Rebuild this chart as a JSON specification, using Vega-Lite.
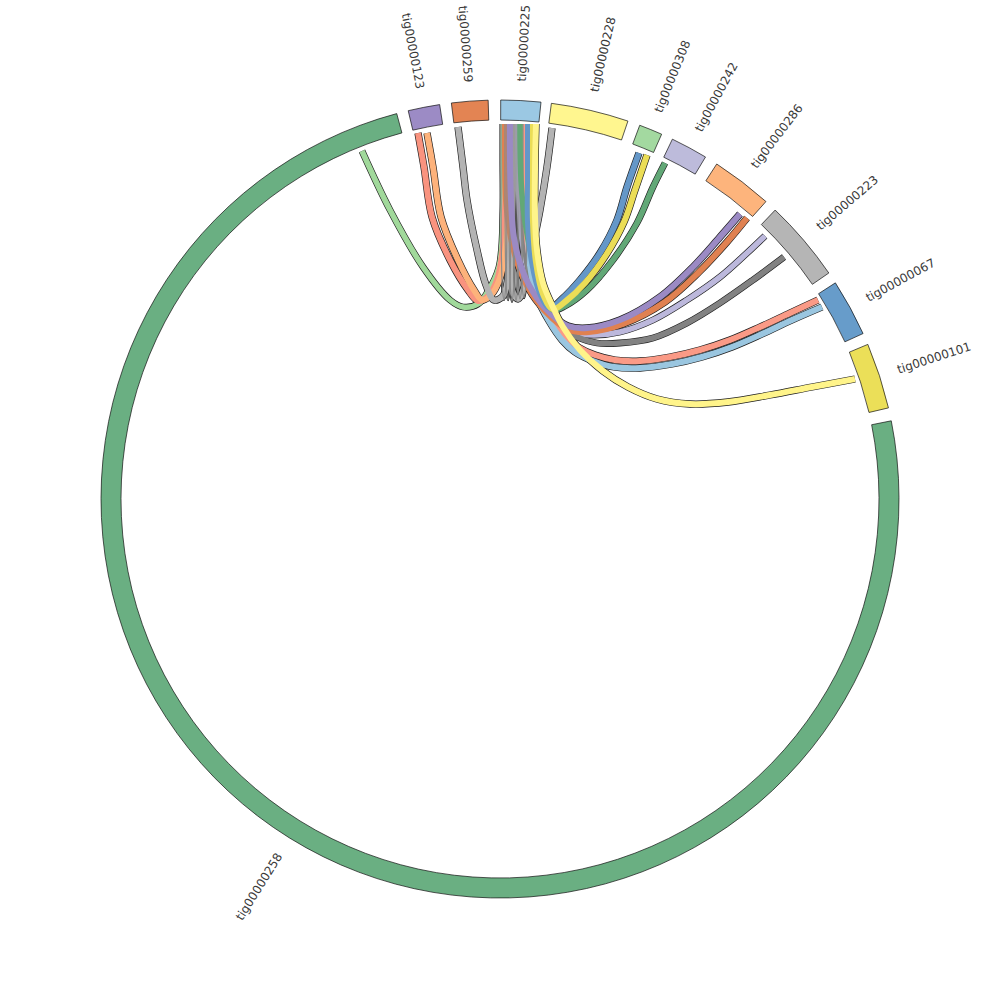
{
  "$schema": "https://vega.github.io/schema/vega-lite/v6.json",
  "width": 1000,
  "height": 1000,
  "autosize": {"type": "fit", "contains": "padding"},
  "padding": 0,
  "background": "white",
  "config": {"view": {"stroke": null}},
  "datasets": {
    "segments": [
      {"tig": "tig00000225", "start": 0.1, "end": 5.9, "mid": 3.0, "side": "R"},
      {"tig": "tig00000228", "start": 7.4, "end": 18.7, "mid": 13.05, "side": "R"},
      {"tig": "tig00000308", "start": 20.5, "end": 23.9, "mid": 22.2, "side": "R"},
      {"tig": "tig00000242", "start": 25.6, "end": 31.0, "mid": 28.3, "side": "R"},
      {"tig": "tig00000286", "start": 32.9, "end": 41.8, "mid": 37.35, "side": "R"},
      {"tig": "tig00000223", "start": 43.6, "end": 55.5, "mid": 49.55, "side": "R"},
      {"tig": "tig00000067", "start": 57.2, "end": 65.5, "mid": 61.35, "side": "R"},
      {"tig": "tig00000101", "start": 67.2, "end": 76.8, "mid": 72.0, "side": "R"},
      {"tig": "tig00000258", "start": 78.7, "end": 345.0, "mid": 211.85, "side": "L"},
      {"tig": "tig00000123", "start": 346.7, "end": 351.3, "mid": 349.0, "side": "L"},
      {"tig": "tig00000259", "start": 353.0, "end": 358.3, "mid": 355.65, "side": "L"}
    ],
    "links": [
      {"id": "258-225", "i": 1, "x": -138, "y": 348, "w": 5.5},
      {"id": "258-225", "i": 2, "x": -110, "y": 289, "w": 5.5},
      {"id": "258-225", "i": 3, "x": -77, "y": 232, "w": 5.5},
      {"id": "258-225", "i": 4, "x": -50, "y": 199, "w": 5.5},
      {"id": "258-225", "i": 5, "x": -37, "y": 192, "w": 5.5},
      {"id": "258-225", "i": 6, "x": -22, "y": 195, "w": 5.5},
      {"id": "258-225", "i": 7, "x": -13, "y": 206, "w": 5.5},
      {"id": "258-225", "i": 8, "x": -1, "y": 232, "w": 5.5},
      {"id": "258-225", "i": 9, "x": 3, "y": 289, "w": 5.5},
      {"id": "258-225", "i": 10, "x": 3, "y": 339, "w": 5.5},
      {"id": "258-225", "i": 11, "x": 3, "y": 375, "w": 5.5},

      {"id": "123-225a", "i": 1, "x": -82, "y": 366, "w": 6},
      {"id": "123-225a", "i": 2, "x": -76, "y": 332, "w": 6},
      {"id": "123-225a", "i": 3, "x": -68, "y": 282, "w": 6},
      {"id": "123-225a", "i": 4, "x": -50, "y": 239, "w": 6},
      {"id": "123-225a", "i": 5, "x": -32, "y": 209, "w": 6},
      {"id": "123-225a", "i": 6, "x": -22, "y": 198, "w": 6},
      {"id": "123-225a", "i": 7, "x": -13, "y": 202, "w": 6},
      {"id": "123-225a", "i": 8, "x": -3, "y": 219, "w": 6},
      {"id": "123-225a", "i": 9, "x": 3, "y": 252, "w": 6},
      {"id": "123-225a", "i": 10, "x": 5, "y": 289, "w": 6},
      {"id": "123-225a", "i": 11, "x": 6, "y": 329, "w": 6},
      {"id": "123-225a", "i": 12, "x": 6, "y": 375, "w": 6},

      {"id": "123-225b", "i": 1, "x": -73, "y": 366, "w": 6},
      {"id": "123-225b", "i": 2, "x": -67, "y": 332, "w": 6},
      {"id": "123-225b", "i": 3, "x": -59, "y": 282, "w": 6},
      {"id": "123-225b", "i": 4, "x": -42, "y": 239, "w": 6},
      {"id": "123-225b", "i": 5, "x": -26, "y": 209, "w": 6},
      {"id": "123-225b", "i": 6, "x": -18, "y": 199, "w": 6},
      {"id": "123-225b", "i": 7, "x": -9, "y": 204, "w": 6},
      {"id": "123-225b", "i": 8, "x": 0, "y": 221, "w": 6},
      {"id": "123-225b", "i": 9, "x": 6, "y": 254, "w": 6},
      {"id": "123-225b", "i": 10, "x": 8, "y": 291, "w": 6},
      {"id": "123-225b", "i": 11, "x": 8, "y": 329, "w": 6},
      {"id": "123-225b", "i": 12, "x": 8, "y": 375, "w": 6},

      {"id": "259-225", "i": 1, "x": -42, "y": 372, "w": 6},
      {"id": "259-225", "i": 2, "x": -37, "y": 332, "w": 6},
      {"id": "259-225", "i": 3, "x": -33, "y": 299, "w": 6},
      {"id": "259-225", "i": 4, "x": -23, "y": 249, "w": 6},
      {"id": "259-225", "i": 5, "x": -14, "y": 214, "w": 6},
      {"id": "259-225", "i": 6, "x": -6, "y": 199, "w": 6},
      {"id": "259-225", "i": 7, "x": 3, "y": 203, "w": 6},
      {"id": "259-225", "i": 8, "x": 9, "y": 229, "w": 6},
      {"id": "259-225", "i": 9, "x": 11, "y": 279, "w": 6},
      {"id": "259-225", "i": 10, "x": 11, "y": 329, "w": 6},
      {"id": "259-225", "i": 11, "x": 11, "y": 375, "w": 6},

      {"id": "228-225", "i": 1, "x": 52, "y": 371, "w": 6},
      {"id": "228-225", "i": 2, "x": 47, "y": 332, "w": 6},
      {"id": "228-225", "i": 3, "x": 40, "y": 289, "w": 6},
      {"id": "228-225", "i": 4, "x": 32, "y": 249, "w": 6},
      {"id": "228-225", "i": 5, "x": 25, "y": 214, "w": 6},
      {"id": "228-225", "i": 6, "x": 18, "y": 200, "w": 6},
      {"id": "228-225", "i": 7, "x": 12, "y": 209, "w": 6},
      {"id": "228-225", "i": 8, "x": 10, "y": 239, "w": 6},
      {"id": "228-225", "i": 9, "x": 12, "y": 289, "w": 6},
      {"id": "228-225", "i": 10, "x": 14, "y": 329, "w": 6},
      {"id": "228-225", "i": 11, "x": 15, "y": 375, "w": 6},

      {"id": "223-225a", "i": 1, "x": 265, "y": 263, "w": 5.5},
      {"id": "223-225a", "i": 2, "x": 247, "y": 246, "w": 5.5},
      {"id": "223-225a", "i": 3, "x": 220, "y": 222, "w": 5.5},
      {"id": "223-225a", "i": 4, "x": 187, "y": 199, "w": 5.5},
      {"id": "223-225a", "i": 5, "x": 153, "y": 179, "w": 5.5},
      {"id": "223-225a", "i": 6, "x": 120, "y": 167, "w": 5.5},
      {"id": "223-225a", "i": 7, "x": 93, "y": 164, "w": 5.5},
      {"id": "223-225a", "i": 8, "x": 73, "y": 167, "w": 5.5},
      {"id": "223-225a", "i": 9, "x": 57, "y": 179, "w": 5.5},
      {"id": "223-225a", "i": 10, "x": 42, "y": 196, "w": 5.5},
      {"id": "223-225a", "i": 11, "x": 30, "y": 221, "w": 5.5},
      {"id": "223-225a", "i": 12, "x": 22, "y": 259, "w": 5.5},
      {"id": "223-225a", "i": 13, "x": 19, "y": 299, "w": 5.5},
      {"id": "223-225a", "i": 14, "x": 18, "y": 339, "w": 5.5},
      {"id": "223-225a", "i": 15, "x": 18, "y": 375, "w": 5.5},

      {"id": "223-225b", "i": 1, "x": 284, "y": 242, "w": 5.5},
      {"id": "223-225b", "i": 2, "x": 253, "y": 219, "w": 5.5},
      {"id": "223-225b", "i": 3, "x": 220, "y": 196, "w": 5.5},
      {"id": "223-225b", "i": 4, "x": 187, "y": 176, "w": 5.5},
      {"id": "223-225b", "i": 5, "x": 153, "y": 161, "w": 5.5},
      {"id": "223-225b", "i": 6, "x": 120, "y": 156, "w": 5.5},
      {"id": "223-225b", "i": 7, "x": 97, "y": 156, "w": 5.5},
      {"id": "223-225b", "i": 8, "x": 77, "y": 162, "w": 5.5},
      {"id": "223-225b", "i": 9, "x": 60, "y": 172, "w": 5.5},
      {"id": "223-225b", "i": 10, "x": 45, "y": 189, "w": 5.5},
      {"id": "223-225b", "i": 11, "x": 32, "y": 214, "w": 5.5},
      {"id": "223-225b", "i": 12, "x": 25, "y": 249, "w": 5.5},
      {"id": "223-225b", "i": 13, "x": 23, "y": 299, "w": 5.5},
      {"id": "223-225b", "i": 14, "x": 23, "y": 339, "w": 5.5},
      {"id": "223-225b", "i": 15, "x": 23, "y": 375, "w": 5.5},

      {"id": "067-225a", "i": 1, "x": 318, "y": 199, "w": 6},
      {"id": "067-225a", "i": 2, "x": 290, "y": 186, "w": 6},
      {"id": "067-225a", "i": 3, "x": 260, "y": 172, "w": 6},
      {"id": "067-225a", "i": 4, "x": 230, "y": 159, "w": 6},
      {"id": "067-225a", "i": 5, "x": 200, "y": 149, "w": 6},
      {"id": "067-225a", "i": 6, "x": 170, "y": 142, "w": 6},
      {"id": "067-225a", "i": 7, "x": 140, "y": 138, "w": 6},
      {"id": "067-225a", "i": 8, "x": 115, "y": 139, "w": 6},
      {"id": "067-225a", "i": 9, "x": 95, "y": 144, "w": 6},
      {"id": "067-225a", "i": 10, "x": 78, "y": 152, "w": 6},
      {"id": "067-225a", "i": 11, "x": 65, "y": 163, "w": 6},
      {"id": "067-225a", "i": 12, "x": 52, "y": 181, "w": 6},
      {"id": "067-225a", "i": 13, "x": 40, "y": 204, "w": 6},
      {"id": "067-225a", "i": 14, "x": 31, "y": 234, "w": 6},
      {"id": "067-225a", "i": 15, "x": 26, "y": 274, "w": 6},
      {"id": "067-225a", "i": 16, "x": 25, "y": 319, "w": 6},
      {"id": "067-225a", "i": 17, "x": 25, "y": 375, "w": 6},

      {"id": "067-225b", "i": 1, "x": 322, "y": 192, "w": 6},
      {"id": "067-225b", "i": 2, "x": 292, "y": 179, "w": 6},
      {"id": "067-225b", "i": 3, "x": 262, "y": 165, "w": 6},
      {"id": "067-225b", "i": 4, "x": 232, "y": 152, "w": 6},
      {"id": "067-225b", "i": 5, "x": 202, "y": 142, "w": 6},
      {"id": "067-225b", "i": 6, "x": 172, "y": 135, "w": 6},
      {"id": "067-225b", "i": 7, "x": 140, "y": 131, "w": 6},
      {"id": "067-225b", "i": 8, "x": 114, "y": 132, "w": 6},
      {"id": "067-225b", "i": 9, "x": 93, "y": 138, "w": 6},
      {"id": "067-225b", "i": 10, "x": 75, "y": 147, "w": 6},
      {"id": "067-225b", "i": 11, "x": 62, "y": 159, "w": 6},
      {"id": "067-225b", "i": 12, "x": 49, "y": 178, "w": 6},
      {"id": "067-225b", "i": 13, "x": 37, "y": 202, "w": 6},
      {"id": "067-225b", "i": 14, "x": 30, "y": 234, "w": 6},
      {"id": "067-225b", "i": 15, "x": 28, "y": 274, "w": 6},
      {"id": "067-225b", "i": 16, "x": 29, "y": 319, "w": 6},
      {"id": "067-225b", "i": 17, "x": 29, "y": 375, "w": 6},

      {"id": "286-225b", "i": 1, "x": 247, "y": 281, "w": 6},
      {"id": "286-225b", "i": 2, "x": 227, "y": 257, "w": 6},
      {"id": "286-225b", "i": 3, "x": 199, "y": 227, "w": 6},
      {"id": "286-225b", "i": 4, "x": 165, "y": 197, "w": 6},
      {"id": "286-225b", "i": 5, "x": 123, "y": 175, "w": 6},
      {"id": "286-225b", "i": 6, "x": 89, "y": 167, "w": 6},
      {"id": "286-225b", "i": 7, "x": 69, "y": 169, "w": 6},
      {"id": "286-225b", "i": 8, "x": 52, "y": 181, "w": 6},
      {"id": "286-225b", "i": 9, "x": 36, "y": 199, "w": 6},
      {"id": "286-225b", "i": 10, "x": 21, "y": 226, "w": 6},
      {"id": "286-225b", "i": 11, "x": 11, "y": 261, "w": 6},
      {"id": "286-225b", "i": 12, "x": 6, "y": 299, "w": 6},
      {"id": "286-225b", "i": 13, "x": 5, "y": 339, "w": 6},
      {"id": "286-225b", "i": 14, "x": 5, "y": 375, "w": 6},

      {"id": "s1", "i": 1, "x": 1, "y": 375, "w": 1.2},
      {"id": "s1", "i": 2, "x": 1, "y": 299, "w": 1.2},
      {"id": "s1", "i": 3, "x": 1.5, "y": 239, "w": 1.2},
      {"id": "s1", "i": 4, "x": 2.5, "y": 209, "w": 1.2},
      {"id": "s1", "i": 5, "x": 4, "y": 199, "w": 1.2},
      {"id": "s1", "i": 6, "x": 5.5, "y": 209, "w": 1.2},
      {"id": "s1", "i": 7, "x": 6.5, "y": 239, "w": 1.2},
      {"id": "s1", "i": 8, "x": 7, "y": 299, "w": 1.2},
      {"id": "s1", "i": 9, "x": 7, "y": 375, "w": 1.2},

      {"id": "s2", "i": 1, "x": 5, "y": 375, "w": 1.2},
      {"id": "s2", "i": 2, "x": 5, "y": 299, "w": 1.2},
      {"id": "s2", "i": 3, "x": 5.5, "y": 239, "w": 1.2},
      {"id": "s2", "i": 4, "x": 6.5, "y": 209, "w": 1.2},
      {"id": "s2", "i": 5, "x": 8, "y": 199, "w": 1.2},
      {"id": "s2", "i": 6, "x": 9.5, "y": 209, "w": 1.2},
      {"id": "s2", "i": 7, "x": 10.5, "y": 239, "w": 1.2},
      {"id": "s2", "i": 8, "x": 11, "y": 299, "w": 1.2},
      {"id": "s2", "i": 9, "x": 11, "y": 375, "w": 1.2},

      {"id": "s3", "i": 1, "x": 9, "y": 375, "w": 1.2},
      {"id": "s3", "i": 2, "x": 9, "y": 299, "w": 1.2},
      {"id": "s3", "i": 3, "x": 9.5, "y": 239, "w": 1.2},
      {"id": "s3", "i": 4, "x": 10.5, "y": 209, "w": 1.2},
      {"id": "s3", "i": 5, "x": 12, "y": 197, "w": 1.2},
      {"id": "s3", "i": 6, "x": 13.5, "y": 209, "w": 1.2},
      {"id": "s3", "i": 7, "x": 14.5, "y": 239, "w": 1.2},
      {"id": "s3", "i": 8, "x": 15, "y": 299, "w": 1.2},
      {"id": "s3", "i": 9, "x": 15, "y": 375, "w": 1.2},

      {"id": "s4", "i": 1, "x": 13, "y": 375, "w": 1.2},
      {"id": "s4", "i": 2, "x": 13, "y": 299, "w": 1.2},
      {"id": "s4", "i": 3, "x": 13.5, "y": 239, "w": 1.2},
      {"id": "s4", "i": 4, "x": 14.5, "y": 209, "w": 1.2},
      {"id": "s4", "i": 5, "x": 16, "y": 198, "w": 1.2},
      {"id": "s4", "i": 6, "x": 17.5, "y": 209, "w": 1.2},
      {"id": "s4", "i": 7, "x": 18.5, "y": 239, "w": 1.2},
      {"id": "s4", "i": 8, "x": 19, "y": 299, "w": 1.2},
      {"id": "s4", "i": 9, "x": 19, "y": 375, "w": 1.2},

      {"id": "s5", "i": 1, "x": 17, "y": 375, "w": 1.2},
      {"id": "s5", "i": 2, "x": 17, "y": 299, "w": 1.2},
      {"id": "s5", "i": 3, "x": 17.5, "y": 239, "w": 1.2},
      {"id": "s5", "i": 4, "x": 18.5, "y": 209, "w": 1.2},
      {"id": "s5", "i": 5, "x": 20, "y": 200, "w": 1.2},
      {"id": "s5", "i": 6, "x": 21.5, "y": 209, "w": 1.2},
      {"id": "s5", "i": 7, "x": 22.5, "y": 239, "w": 1.2},
      {"id": "s5", "i": 8, "x": 23, "y": 299, "w": 1.2},
      {"id": "s5", "i": 9, "x": 23, "y": 375, "w": 1.2},

      {"id": "s6", "i": 1, "x": 21, "y": 375, "w": 1.2},
      {"id": "s6", "i": 2, "x": 21, "y": 299, "w": 1.2},
      {"id": "s6", "i": 3, "x": 21.5, "y": 239, "w": 1.2},
      {"id": "s6", "i": 4, "x": 22.5, "y": 209, "w": 1.2},
      {"id": "s6", "i": 5, "x": 24, "y": 201, "w": 1.2},
      {"id": "s6", "i": 6, "x": 25.5, "y": 209, "w": 1.2},
      {"id": "s6", "i": 7, "x": 26.5, "y": 239, "w": 1.2},
      {"id": "s6", "i": 8, "x": 27, "y": 299, "w": 1.2},
      {"id": "s6", "i": 9, "x": 27, "y": 375, "w": 1.2},

      {"id": "286-225a", "i": 1, "x": 240, "y": 285, "w": 6},
      {"id": "286-225a", "i": 2, "x": 220, "y": 262, "w": 6},
      {"id": "286-225a", "i": 3, "x": 193, "y": 232, "w": 6},
      {"id": "286-225a", "i": 4, "x": 160, "y": 202, "w": 6},
      {"id": "286-225a", "i": 5, "x": 120, "y": 179, "w": 6},
      {"id": "286-225a", "i": 6, "x": 87, "y": 171, "w": 6},
      {"id": "286-225a", "i": 7, "x": 68, "y": 173, "w": 6},
      {"id": "286-225a", "i": 8, "x": 52, "y": 184, "w": 6},
      {"id": "286-225a", "i": 9, "x": 37, "y": 201, "w": 6},
      {"id": "286-225a", "i": 10, "x": 23, "y": 227, "w": 6},
      {"id": "286-225a", "i": 11, "x": 14, "y": 261, "w": 6},
      {"id": "286-225a", "i": 12, "x": 11, "y": 299, "w": 6},
      {"id": "286-225a", "i": 13, "x": 10, "y": 339, "w": 6},
      {"id": "286-225a", "i": 14, "x": 10, "y": 375, "w": 6},

      {"id": "242-225", "i": 1, "x": 165, "y": 336, "w": 5.5},
      {"id": "242-225", "i": 2, "x": 153, "y": 312, "w": 5.5},
      {"id": "242-225", "i": 3, "x": 137, "y": 276, "w": 5.5},
      {"id": "242-225", "i": 4, "x": 113, "y": 239, "w": 5.5},
      {"id": "242-225", "i": 5, "x": 87, "y": 209, "w": 5.5},
      {"id": "242-225", "i": 6, "x": 65, "y": 193, "w": 5.5},
      {"id": "242-225", "i": 7, "x": 53, "y": 189, "w": 5.5},
      {"id": "242-225", "i": 8, "x": 43, "y": 203, "w": 5.5},
      {"id": "242-225", "i": 9, "x": 33, "y": 237, "w": 5.5},
      {"id": "242-225", "i": 10, "x": 25, "y": 277, "w": 5.5},
      {"id": "242-225", "i": 11, "x": 21, "y": 319, "w": 5.5},
      {"id": "242-225", "i": 12, "x": 20, "y": 375, "w": 5.5},

      {"id": "308-225a", "i": 1, "x": 139, "y": 346, "w": 6},
      {"id": "308-225a", "i": 2, "x": 127, "y": 312, "w": 6},
      {"id": "308-225a", "i": 3, "x": 117, "y": 279, "w": 6},
      {"id": "308-225a", "i": 4, "x": 100, "y": 246, "w": 6},
      {"id": "308-225a", "i": 5, "x": 80, "y": 219, "w": 6},
      {"id": "308-225a", "i": 6, "x": 62, "y": 200, "w": 6},
      {"id": "308-225a", "i": 7, "x": 50, "y": 191, "w": 6},
      {"id": "308-225a", "i": 8, "x": 40, "y": 206, "w": 6},
      {"id": "308-225a", "i": 9, "x": 32, "y": 237, "w": 6},
      {"id": "308-225a", "i": 10, "x": 28, "y": 277, "w": 6},
      {"id": "308-225a", "i": 11, "x": 28, "y": 319, "w": 6},
      {"id": "308-225a", "i": 12, "x": 28, "y": 375, "w": 6},

      {"id": "308-225b", "i": 1, "x": 147, "y": 344, "w": 6},
      {"id": "308-225b", "i": 2, "x": 135, "y": 309, "w": 6},
      {"id": "308-225b", "i": 3, "x": 124, "y": 277, "w": 6},
      {"id": "308-225b", "i": 4, "x": 106, "y": 244, "w": 6},
      {"id": "308-225b", "i": 5, "x": 85, "y": 216, "w": 6},
      {"id": "308-225b", "i": 6, "x": 66, "y": 198, "w": 6},
      {"id": "308-225b", "i": 7, "x": 53, "y": 190, "w": 6},
      {"id": "308-225b", "i": 8, "x": 43, "y": 205, "w": 6},
      {"id": "308-225b", "i": 9, "x": 36, "y": 237, "w": 6},
      {"id": "308-225b", "i": 10, "x": 33, "y": 277, "w": 6},
      {"id": "308-225b", "i": 11, "x": 33, "y": 319, "w": 6},
      {"id": "308-225b", "i": 12, "x": 33, "y": 375, "w": 6},

      {"id": "101-225", "i": 1, "x": 355, "y": 120, "w": 6},
      {"id": "101-225", "i": 2, "x": 312, "y": 112, "w": 6},
      {"id": "101-225", "i": 3, "x": 270, "y": 104, "w": 6},
      {"id": "101-225", "i": 4, "x": 228, "y": 97, "w": 6},
      {"id": "101-225", "i": 5, "x": 190, "y": 95, "w": 6},
      {"id": "101-225", "i": 6, "x": 157, "y": 100, "w": 6},
      {"id": "101-225", "i": 7, "x": 128, "y": 112, "w": 6},
      {"id": "101-225", "i": 8, "x": 103, "y": 128, "w": 6},
      {"id": "101-225", "i": 9, "x": 80, "y": 149, "w": 6},
      {"id": "101-225", "i": 10, "x": 63, "y": 172, "w": 6},
      {"id": "101-225", "i": 11, "x": 52, "y": 194, "w": 6},
      {"id": "101-225", "i": 12, "x": 43, "y": 216, "w": 6},
      {"id": "101-225", "i": 13, "x": 37, "y": 249, "w": 6},
      {"id": "101-225", "i": 14, "x": 35, "y": 282, "w": 6},
      {"id": "101-225", "i": 15, "x": 35, "y": 329, "w": 6},
      {"id": "101-225", "i": 16, "x": 36, "y": 375, "w": 6}
    ]
  },
  "layer": [
    {
      "data": {"name": "links"},
      "mark": {"type": "line", "interpolate": "catmull-rom", "color": "#1e1e1e", "strokeCap": "butt"},
      "encoding": {
        "x": {"field": "x", "type": "quantitative", "scale": {"domain": [-500, 500], "nice": false, "zero": false}, "axis": null},
        "y": {"field": "y", "type": "quantitative", "scale": {"domain": [-501, 499], "nice": false, "zero": false}, "axis": null},
        "detail": {"field": "id", "type": "nominal"},
        "order": {"field": "i", "type": "quantitative"},
        "size": {"field": "w", "type": "quantitative", "scale": {"domain": [0, 10], "range": [1.3, 11.3], "zero": false}, "legend": null}
      }
    },
    {
      "data": {"name": "links"},
      "mark": {"type": "line", "interpolate": "catmull-rom", "strokeCap": "butt"},
      "encoding": {
        "x": {"field": "x", "type": "quantitative"},
        "y": {"field": "y", "type": "quantitative"},
        "order": {"field": "i", "type": "quantitative"},
        "color": {
          "field": "id", "type": "nominal", "legend": null,
          "scale": {
            "domain": ["258-225", "123-225a", "123-225b", "259-225", "228-225", "308-225a", "308-225b", "242-225", "286-225a", "286-225b", "223-225a", "223-225b", "067-225a", "067-225b", "101-225", "s1", "s2", "s3", "s4", "s5", "s6"],
            "range": ["#a1d99b", "#f9937f", "#fdb27b", "#b3b3b3", "#b3b3b3", "#6497c8", "#ebdd56", "#62a877", "#9b8ac4", "#e08151", "#bcb8dc", "#828282", "#fa9a86", "#9ac6e0", "#fff48a", "#8a8a8a", "#8a8a8a", "#8a8a8a", "#8a8a8a", "#8a8a8a", "#8a8a8a"]
          }
        },
        "size": {"field": "w", "type": "quantitative", "scale": {"domain": [0, 10], "range": [0, 10], "zero": false}, "legend": null}
      }
    },
    {
      "data": {"name": "segments"},
      "mark": {"type": "arc", "innerRadius": 379, "outerRadius": 399, "stroke": "#111111", "strokeWidth": 0.7},
      "encoding": {
        "x": {"datum": 0, "type": "quantitative"},
        "y": {"datum": 0, "type": "quantitative"},
        "theta": {"field": "start", "type": "quantitative", "stack": null, "scale": {"domain": [0, 360], "range": [0, 6.283185307], "nice": false, "zero": false}},
        "theta2": {"field": "end"},
        "color": {
          "field": "tig", "type": "nominal", "legend": null,
          "scale": {
            "domain": ["tig00000225", "tig00000228", "tig00000308", "tig00000242", "tig00000286", "tig00000223", "tig00000067", "tig00000101", "tig00000258", "tig00000123", "tig00000259"],
            "range": ["#9bc8e3", "#fff68f", "#a3d9a0", "#bdbbdb", "#fdb47c", "#b5b5b5", "#679cca", "#ebdf58", "#6aaf82", "#9c8bc5", "#e38453"]
          }
        }
      }
    },
    {
      "data": {"name": "segments"},
      "transform": [{"filter": "datum.side === 'R'"}],
      "mark": {"type": "text", "radius": 418, "align": "left", "baseline": "middle", "fontSize": 12, "font": "DejaVu Sans", "color": "#3a3a3a"},
      "encoding": {
        "x": {"datum": 0, "type": "quantitative"},
        "y": {"datum": 0, "type": "quantitative"},
        "theta": {"field": "mid", "type": "quantitative", "stack": null},
        "text": {"field": "tig"},
        "angle": {"field": "mid", "type": "quantitative", "scale": {"domain": [0, 360], "range": [-90, 270], "nice": false, "zero": false}}
      }
    },
    {
      "data": {"name": "segments"},
      "transform": [{"filter": "datum.side === 'L'"}],
      "mark": {"type": "text", "radius": 418, "align": "right", "baseline": "middle", "fontSize": 12, "font": "DejaVu Sans", "color": "#3a3a3a"},
      "encoding": {
        "x": {"datum": 0, "type": "quantitative"},
        "y": {"datum": 0, "type": "quantitative"},
        "theta": {"field": "mid", "type": "quantitative", "stack": null},
        "text": {"field": "tig"},
        "angle": {"field": "mid", "type": "quantitative", "scale": {"domain": [0, 360], "range": [90, 450], "nice": false, "zero": false}}
      }
    }
  ],
  "resolve": {"scale": {"size": "independent", "color": "independent", "angle": "independent"}}
}
